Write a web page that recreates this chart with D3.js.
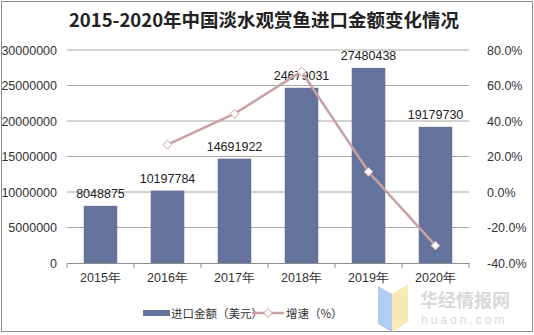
<!DOCTYPE html>
<html><head><meta charset="utf-8">
<script src="https://cdn.jsdelivr.net/npm/d3@7"></script>
<style>body{margin:0;background:#fff}svg{display:block}</style>
</head><body>
<script>
const years = ["2015年","2016年","2017年","2018年","2019年","2020年"];
const imports = [8048875,10197784,14691922,24679031,27480438,19179730];
const growth = [null,26.7,44.1,67.9,11.4,-30.2];
const leftTicks = [0,5000000,10000000,15000000,20000000,25000000,30000000];
const rightTicks = [-40,-20,0,20,40,60,80];
const title = "2015-2020年中国淡水观赏鱼进口金额变化情况";

const W=534,H=335;
const svg=d3.select("body").append("svg").attr("width",W).attr("height",H);
const font="'Liberation Sans',Arial,sans-serif";
svg.append("rect").attr("x",1.5).attr("y",1.5).attr("width",W-3).attr("height",H-5).attr("fill","#fff").attr("stroke","#8c8c8c");

svg.append("text").attr("x",264).attr("y",27).attr("text-anchor","middle")
 .attr("font-family","'Noto Sans CJK SC',sans-serif").attr("font-weight","bold").attr("font-size",18.5).attr("fill","#222").text(title);

const x0=67,x1=469,yTop=50,yBot=263;
const x=d3.scaleBand().domain(years).range([x0,x1]).paddingInner(0.5).paddingOuter(0.25);
const xb=d3.scaleBand().domain(years).range([x0,x1]);
const yL=d3.scaleLinear().domain([0,30000000]).range([yBot,yTop]);
const yR=d3.scaleLinear().domain([-40,80]).range([yBot,yTop]);

// grid
svg.append("g").selectAll("line").data(leftTicks.slice(1)).join("line")
 .attr("x1",x0).attr("x2",x1).attr("y1",d=>yL(d)).attr("y2",d=>yL(d)).attr("stroke","#a6a6a6").attr("stroke-width",1);

// left axis
const gl=svg.append("g").attr("transform",`translate(${x0},0)`).call(d3.axisLeft(yL).tickValues(leftTicks).tickSize(0).tickPadding(10).tickFormat(d3.format("d")));
gl.select(".domain").remove();
gl.selectAll("text").attr("font-family",font).attr("font-size",12.5).attr("fill","#333");

// right axis
const gr=svg.append("g").attr("transform",`translate(${x1},0)`).call(d3.axisRight(yR).tickValues(rightTicks).tickSize(0).tickPadding(18).tickFormat(d=>d.toFixed(1)+"%"));
gr.select(".domain").remove();
gr.selectAll("text").attr("font-family",font).attr("font-size",12.5).attr("fill","#333");

// bars
svg.append("g").selectAll("rect").data(imports).join("rect")
 .attr("x",(d,i)=>x(years[i])).attr("width",x.bandwidth())
 .attr("y",d=>yL(d)).attr("height",d=>yBot-yL(d)).attr("fill","#65729b");

// bottom axis
const gb=svg.append("g").attr("transform",`translate(0,${yBot})`).call(d3.axisBottom(xb).tickSize(0).tickPadding(10));
gb.select(".domain").attr("stroke","#8c8c8c");
gb.selectAll("text").attr("font-family",font).attr("font-size",12.5).attr("fill","#333");
svg.append("g").selectAll("line").data(d3.range(years.length+1)).join("line")
 .attr("x1",i=>x0+i*xb.step()).attr("x2",i=>x0+i*xb.step()).attr("y1",yBot).attr("y2",yBot+5).attr("stroke","#8c8c8c");

// labels
svg.append("g").selectAll("text").data(imports).join("text")
 .attr("x",(d,i)=>xb(years[i])+xb.bandwidth()/2).attr("y",d=>yL(d)-8).attr("text-anchor","middle")
 .attr("font-family",font).attr("font-size",12.5).attr("fill","#222").text(d=>d);

// line
const pts=growth.map((g,i)=>({g,i})).filter(d=>d.g!==null);
const cx=d=>xb(years[d.i])+xb.bandwidth()/2;
svg.append("path").datum(pts).attr("fill","none").attr("stroke","#c8a1a3").attr("stroke-width",2.5)
 .attr("d",d3.line().x(cx).y(d=>yR(d.g)));
svg.append("g").selectAll("path").data(pts).join("path")
 .attr("transform",d=>`translate(${cx(d)},${yR(d.g)})`).attr("d",d3.symbol(d3.symbolDiamond2,50)())
 .attr("fill","#fff").attr("stroke","#c8a1a3").attr("stroke-width",1);

// watermark
const wm=svg.append("g");
wm.append("path").attr("d","M378,286 L392,294 L392,332 L378,324 Z").attr("fill","#a9c8f0").attr("opacity",0.9);
wm.append("path").attr("d","M392,294 L408,284 L408,322 L392,332 Z").attr("fill","#f6e7a8").attr("opacity",0.9);
wm.append("text").attr("x",420).attr("y",307).attr("font-family","'Noto Sans CJK SC',sans-serif").attr("font-weight","bold").attr("font-size",18).attr("fill","#d9d9d9").text("华经情报网");
wm.append("text").attr("x",421).attr("y",324).attr("font-family",font).attr("font-size",12).attr("letter-spacing",3).attr("fill","#d9d9d9").text("huaon.com");

// legend
const lg=svg.append("g").attr("font-family","'Noto Sans CJK SC',sans-serif").attr("font-size",11.5).attr("fill","#333");
lg.append("rect").attr("x",143).attr("y",310).attr("width",27).attr("height",6).attr("fill","#65729b");
lg.append("text").attr("x",171).attr("y",318).text("进口金额（美元）");
lg.append("line").attr("x1",252).attr("x2",284).attr("y1",313).attr("y2",313).attr("stroke","#c8a1a3").attr("stroke-width",2.5);
lg.append("path").attr("transform","translate(268,313)").attr("d",d3.symbol(d3.symbolDiamond2,50)()).attr("fill","#fff").attr("stroke","#c8a1a3");
lg.append("text").attr("x",286).attr("y",318).text("增速（%）");
</script>
</body></html>
